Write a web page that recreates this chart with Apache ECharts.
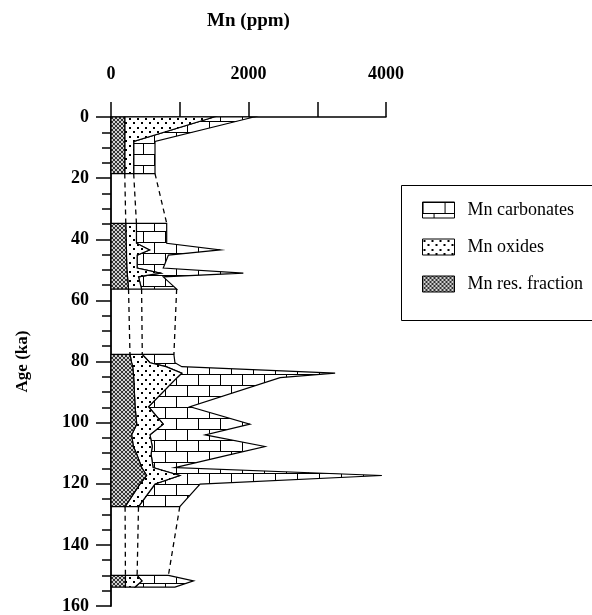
<!DOCTYPE html>
<html><head><meta charset="utf-8">
<script src="https://cdn.jsdelivr.net/npm/echarts@6/dist/echarts.min.js"></script>
<style>html,body{margin:0;padding:0;background:#fff}#c{width:592px;height:615px}</style>
</head><body><div id="c"></div>
<script>
// ---- data ----
const ages = [0, 8, 18.5,
  34.8, 41.3, 43.5, 45.2, 49.4, 51.1, 52.3, 56.3,
  77.7, 80.4, 81.7, 83.8, 85.3, 94.8, 100.5, 104.0, 107.8, 110.3, 114.7, 117.3, 120.1, 127.5,
  150.0, 151.8, 153.8];
const section = [1, 1, 1,
  2, 2, 2, 2, 2, 2, 2, 2,
  3, 3, 3, 3, 3, 3, 3, 3, 3, 3, 3, 3, 3, 3,
  4, 4, 4];
const resFraction = [200, 200, 200,
  215, 220, 225, 225, 230, 235, 240, 255,
  276, 300, 315, 325, 330, 350, 374, 300, 325, 374, 446, 518, 420, 205,
  210, 210, 210];
const oxides = [1300, 130, 130,
  155, 150, 335, 155, 150, 485, 160, 190,
  179, 267, 485, 705, 630, 195, 386, 267, 275, 209, 166, 482, 220, 195,
  170, 240, 140];
const carbonates = [580, 310, 310,
  440, 440, 1030, 455, 380, 1205, 360, 510,
  460, 363, 230, 2230, 1500, 605, 1260, 803, 1640, 1182, 318, 2940, 655, 600,
  455, 750, 580];
const xLabels = [0, 2000, 4000];
const yLabels = [0, 20, 40, 60, 80, 100, 120, 140, 160];
const names = ['Mn res. fraction', 'Mn oxides', 'Mn carbonates'];

// ---- patterns ----
function makeCanvas(w, h, draw) {
  const c = document.createElement('canvas'); c.width = w; c.height = h;
  const g = c.getContext('2d'); draw(g); return c;
}
const brick = makeCanvas(22, 22, g => {
  g.fillStyle = '#fff'; g.fillRect(0, 0, 22, 22);
  g.fillStyle = '#000';
  g.fillRect(0, 0, 22, 1); g.fillRect(0, 11, 22, 1);
  g.fillRect(0, 0, 1, 11); g.fillRect(11, 11, 1, 11);
});
const dots = makeCanvas(8, 9, g => {
  g.fillStyle = '#fff'; g.fillRect(0, 0, 8, 9);
  g.fillStyle = '#000';
  g.fillRect(1, 1, 2, 2); g.fillRect(5, 5, 2, 2);
});
const stipple = makeCanvas(4, 4, g => {
  g.fillStyle = '#d0d0d0'; g.fillRect(0, 0, 4, 4);
  g.fillStyle = '#333';
  const rows = ['.XX.', 'X..X', 'X..X', '.XX.'];
  rows.forEach((r, y) => r.split('').forEach((ch, x) => { if (ch === 'X') g.fillRect(x, y, 1, 1); }));
});
const pat = c => ({ image: c, repeat: 'repeat' });
const fills = [pat(stipple), pat(dots), pat(brick)];

// ---- derived stacks ----
const cumRes = resFraction.slice();
const cumOx = cumRes.map((r, i) => r + oxides[i]);
const cumCarb = cumOx.map((o, i) => o + carbonates[i]);
const bounds = [ages.map(() => 0), cumRes, cumOx, cumCarb];
const blocks = [];
section.forEach((s, i) => {
  if (i === 0 || section[i - 1] !== s) blocks.push([]);
  blocks[blocks.length - 1].push(i);
});

const series = [];
[2, 1, 0].forEach(L => {
  const left = bounds[L], right = bounds[L + 1];
  series.push({
    type: 'custom', name: names[L], coordinateSystem: 'cartesian2d',
    itemStyle: { color: fills[L] },
    data: blocks.map(b => [0, ages[b[0]]]),
    renderItem: (params, api) => {
      const idx = blocks[params.dataIndex];
      const pts = [];
      idx.forEach(i => pts.push(api.coord([right[i], ages[i]])));
      idx.slice().reverse().forEach(i => pts.push(api.coord([left[i], ages[i]])));
      return { type: 'polygon', shape: { points: pts },
        style: { fill: fills[L], stroke: '#000', lineWidth: 1.2 } };
    }
  });
});
// dashed connections across gaps
for (let b = 0; b < blocks.length - 1; b++) {
  const a = blocks[b][blocks[b].length - 1], c = blocks[b + 1][0];
  [cumRes, cumOx, cumCarb].forEach(arr => {
    series.push({
      type: 'line', silent: true, symbol: 'none',
      data: [[arr[a], ages[a]], [arr[c], ages[c]]],
      lineStyle: { color: '#000', width: 1.3, type: [5, 4] }
    });
  });
}

const font = 'Liberation Serif';
const chart = echarts.init(document.getElementById('c'), null, { renderer: 'canvas' });
chart.setOption({
  animation: false,
  backgroundColor: '#fff',
  grid: { left: 111, right: 206, top: 117, bottom: 9 },
  xAxis: {
    type: 'value', position: 'top', min: 0, max: 4000, interval: 1000,
    name: 'Mn (ppm)', nameLocation: 'middle', nameGap: 86,
    nameTextStyle: { fontFamily: font, fontWeight: 'bold', fontSize: 19, color: '#000' },
    axisLine: { onZero: false, lineStyle: { color: '#000', width: 1.5 } },
    axisTick: { length: 15, lineStyle: { color: '#000', width: 1.5 } },
    axisLabel: { margin: 34, fontFamily: font, fontWeight: 'bold', fontSize: 18, color: '#000',
      formatter: v => xLabels.includes(v) ? String(v) : '' },
    splitLine: { show: false }
  },
  yAxis: {
    type: 'value', inverse: true, min: 0, max: 160, interval: 20,
    name: 'Age (ka)', nameLocation: 'middle', nameGap: 80,
    nameTextStyle: { fontFamily: font, fontWeight: 'bold', fontSize: 17, color: '#000' },
    axisLine: { onZero: false, lineStyle: { color: '#000', width: 1.8 } },
    axisTick: { length: 15, lineStyle: { color: '#000', width: 1.5 } },
    minorTick: { show: true, splitNumber: 4, length: 9, lineStyle: { color: '#000', width: 1.5 } },
    axisLabel: { margin: 22, fontFamily: font, fontWeight: 'bold', fontSize: 18, color: '#000',
      formatter: v => yLabels.includes(v) ? String(v) : '' },
    splitLine: { show: false }, minorSplitLine: { show: false }
  },
  legend: {
    orient: 'vertical', left: 422, top: 201, padding: 0,
    itemWidth: 32, itemHeight: 16, itemGap: 19,
    icon: 'rect', selectedMode: false,
    itemStyle: { borderColor: '#000', borderWidth: 1 },
    textStyle: { fontFamily: font, fontSize: 18, color: '#000', padding: [0, 0, 0, 8] },
    data: ['Mn carbonates', 'Mn oxides', 'Mn res. fraction']
  },
  graphic: [{
    type: 'rect', z: -1,
    shape: { x: 401.5, y: 185.5, width: 200, height: 135 },
    style: { fill: 'none', stroke: '#000', lineWidth: 1 }
  }],
  series
});
</script></body></html>
